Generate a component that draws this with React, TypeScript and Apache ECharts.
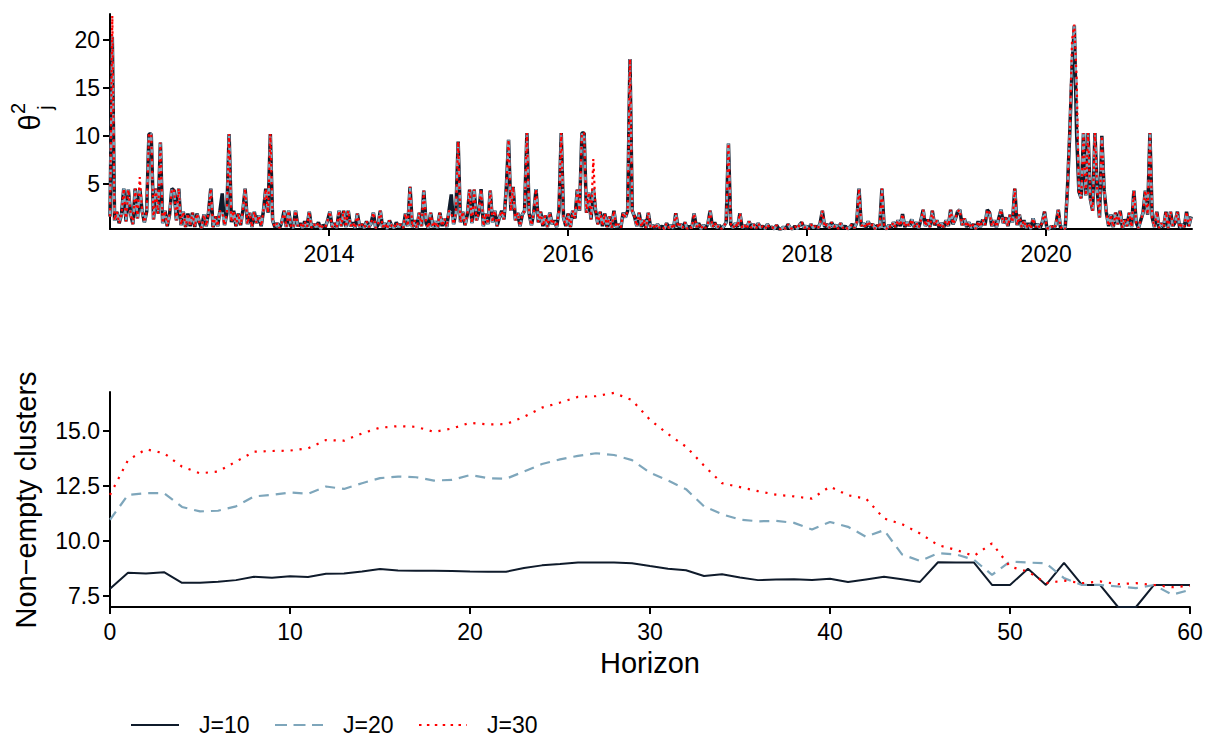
import React, { useEffect, useRef } from "react";
import * as echarts from "echarts";

// ---------- top panel: weekly theta_j^2 (first week = start of March 2012) ----------
const weekStart = 2012.167;
const weekStep = 7 / 365.25;

const theta10_2012 = [
  1.6, 20.3, 1.2, 2.1, 0.9, 1.8, 4.5, 1.1, 4.4, 1.9, 0.8, 4.5, 1.4, 4.5, 2.2, 1.0, 2.1, 10.2, 10.2, 1.3,
  4.5, 1.9, 9.3, 0.9, 2.2, 0.6, 1.8, 4.5, 4.3, 1.2, 4.5, 0.7, 2.1, 0.5, 1.9, 0.6, 2.0, 0.5, 1.9, 1.0,
  0.4, 1.8, 0.6, 2.0, 4.5, 0.5, 1.6, 0.6, 2.2, 4.0, 0.7, 1.9,
];
const theta10_2013 = [
  10.2, 1.0, 2.2, 0.6, 1.9, 0.7, 2.2, 4.5, 0.8, 2.0, 0.5, 2.1, 0.9, 1.7, 0.6, 2.2, 4.5, 2.0, 10.2, 1.2,
  0.5, 0.9, 0.4, 1.0, 2.2, 0.5, 2.2, 0.6, 0.4, 2.2, 0.6, 0.9, 0.4, 1.1, 0.5, 2.1, 0.4, 0.8, 0.5, 1.0,
  0.3, 0.7, 0.5, 1.2, 2.1, 0.5, 0.9, 0.4, 2.2, 0.6, 2.2, 0.5,
];
const theta10_2014 = [
  2.2, 0.6, 1.0, 0.4, 1.9, 0.5, 0.8, 0.4, 1.1, 0.5, 0.9, 2.0, 0.4, 0.7, 2.2, 0.5, 0.9, 0.3, 1.2, 0.6,
  0.4, 1.0, 0.5, 0.8, 0.4, 1.9, 0.6, 4.7, 0.5, 1.2, 0.4, 2.0, 0.6, 4.3, 0.9, 0.4, 2.0, 0.5, 1.1, 0.4,
  2.0, 0.6, 1.4, 0.5, 2.2, 3.9, 0.8, 2.0, 9.4, 1.0, 2.1, 0.7,
];
const theta10_2015 = [
  1.8, 4.4, 0.9, 4.4, 1.2, 2.0, 4.45, 0.6, 1.9, 0.8, 4.3, 1.0, 2.2, 0.6, 1.5, 2.2, 1.3, 4.5, 9.6, 2.2,
  4.7, 1.2, 2.0, 0.6, 1.8, 2.2, 10.3, 1.9, 0.7, 2.0, 4.45, 1.0, 2.1, 0.6, 1.7, 0.5, 2.0, 0.8, 1.2, 0.5,
  2.2, 10.3, 1.5, 0.6, 1.9, 0.5, 2.2, 1.4, 4.4, 2.2, 10.3, 10.3,
];
const theta10_2016 = [
  2.0, 4.1, 1.3, 4.5, 2.2, 0.8, 2.1, 0.6, 1.9, 0.5, 1.6, 0.4, 2.2, 0.5, 0.8, 0.4, 2.0, 1.5, 2.2, 18.0,
  2.2, 1.6, 0.6, 2.0, 0.5, 1.3, 0.4, 2.0, 0.5, 0.7, 0.3, 0.8, 0.4, 0.6, 0.3, 0.9, 0.4, 0.7, 0.3, 1.95,
  0.5, 0.8, 0.4, 1.0, 0.3, 0.6, 0.4, 1.9, 0.5, 0.9, 0.3, 0.7,
];
const theta10_2017 = [
  0.4, 0.8, 2.2, 0.5, 1.0, 0.4, 0.7, 0.3, 0.6, 1.0, 9.2, 0.8, 0.4, 0.9, 0.5, 1.95, 0.4, 0.7, 0.3, 1.1,
  0.4, 0.8, 0.3, 0.9, 0.4, 0.6, 0.3, 0.8, 0.4, 0.5, 0.3, 0.7, 0.3, 0.3, 0.5, 0.3, 0.8, 0.4, 0.3, 0.6,
  0.3, 0.7, 1.0, 0.4, 0.6, 0.3, 0.8, 0.4, 0.6, 0.3, 0.9, 2.2,
];
const theta10_2018 = [
  0.5, 0.8, 0.4, 1.0, 0.5, 0.7, 0.3, 0.9, 0.4, 0.6, 0.3, 0.5, 0.8, 0.4, 1.0, 4.5, 0.6, 0.9, 0.4, 1.1,
  0.5, 0.8, 0.3, 0.7, 0.4, 4.5, 0.5, 0.3, 0.7, 0.4, 1.0, 0.5, 1.2, 0.6, 1.85, 0.5, 1.0, 0.6, 1.3, 0.5,
  1.0, 0.4, 1.2, 2.3, 0.6, 1.3, 0.5, 2.2, 0.7, 1.2, 0.4, 0.9,
];
const theta10_2019 = [
  0.5, 1.2, 0.6, 2.3, 0.8, 1.3, 2.1, 2.3, 0.7, 1.4, 0.5, 1.0, 0.4, 0.8, 0.3, 1.1, 0.5, 1.3, 0.7, 2.3,
  2.0, 0.6, 1.2, 0.5, 1.4, 2.3, 0.9, 1.5, 0.6, 1.8, 1.0, 4.5, 0.7, 1.8, 0.5, 1.2, 0.4, 0.9, 0.3, 1.4,
  0.5, 0.8, 0.4, 1.0, 2.1, 0.4, 0.3, 0.6, 0.3, 0.8, 2.3, 0.4,
];
const theta10_2020 = [
  0.6, 0.3, 4.5, 10.3, 17.0, 21.5, 10.3, 4.2, 3.5, 10.3, 3.8, 10.3, 3.4, 2.2, 10.3, 4.3, 1.5, 10.0, 4.4, 2.0,
  0.6, 1.8, 0.5, 2.0, 0.8, 2.2, 0.4, 1.3, 0.6, 2.0, 0.5, 4.3, 1.0, 0.4, 1.2, 2.0, 4.3, 1.8, 10.3, 1.5,
  0.5, 2.1, 0.4, 0.9, 0.5, 2.1, 0.4, 2.1, 0.6, 1.0, 2.1, 0.4, 0.8, 0.5, 2.1, 0.6, 1.6,
];

// weeks where J=20 / J=30 differ from J=10: [week index, value]
const theta20Diff: [number, number][] = [[1, 20.5], [49, 2.2], [149, 2.0], [420, 18.5], [422, 14.0]];
const theta30Diff: [number, number][] = [
  [1, 22.5], [13, 5.7], [49, 2.0], [149, 2.0], [211, 7.6], [420, 20.0], [421, 21.6], [422, 16.0],
];

const yearTicks = [2014, 2016, 2018, 2020];
const thetaTicks = [5, 10, 15, 20];

// ---------- bottom panel: non-empty clusters by horizon ----------
const horizons = [
  0, 1, 2, 3, 4, 5, 6, 7, 8, 9, 10, 11, 12, 13, 14, 15, 16, 17, 18, 19, 20, 21, 22, 23, 24, 25, 26, 27, 28, 29,
  30, 31, 32, 33, 34, 35, 36, 37, 38, 39, 40, 41, 42, 43, 44, 45, 46, 47, 48, 49, 50, 51, 52, 53, 54, 55, 56, 57,
  58, 59, 60,
];
const clusters10 = [
  7.83, 8.55, 8.52, 8.58, 8.1, 8.1, 8.15, 8.22, 8.37, 8.33,
  8.4, 8.36, 8.51, 8.52, 8.61, 8.72, 8.66, 8.64, 8.64, 8.63,
  8.61, 8.6, 8.6, 8.77, 8.89, 8.95, 9.02, 9.02, 9.02, 8.99,
  8.86, 8.74, 8.67, 8.41, 8.49, 8.34, 8.22, 8.25, 8.26, 8.23,
  8.28, 8.13, 8.25, 8.37, 8.26, 8.14, 9.03, 9.02, 9.02, 8.0,
  8.0, 8.74, 8.0, 9.0, 8.0, 8.0, 7.0, 7.0, 8.0, 8.0, 8.0,
];
const clusters20 = [
  10.96, 12.09, 12.17, 12.17, 11.54, 11.34, 11.37, 11.57, 12.02, 12.09,
  12.2, 12.14, 12.47, 12.36, 12.62, 12.85, 12.92, 12.89, 12.74, 12.77,
  12.99, 12.85, 12.82, 13.15, 13.49, 13.7, 13.86, 13.98, 13.9, 13.67,
  13.1, 12.74, 12.35, 11.57, 11.21, 10.97, 10.89, 10.91, 10.82, 10.52,
  10.86, 10.64, 10.19, 10.49, 9.39, 9.09, 9.44, 9.39, 9.14, 8.46,
  9.06, 9.02, 8.98, 8.31, 8.0, 8.0, 7.93, 7.86, 8.0, 7.56, 7.78,
];
const clusters30 = [
  12.09, 13.67, 14.16, 13.98, 13.37, 13.07, 13.15, 13.6, 14.05, 14.08,
  14.1, 14.2, 14.58, 14.55, 14.88, 15.14, 15.21, 15.18, 14.95, 15.1,
  15.36, 15.29, 15.3, 15.63, 16.05, 16.28, 16.54, 16.57, 16.72, 16.39,
  15.5, 14.85, 14.28, 13.42, 12.62, 12.44, 12.26, 12.1, 12.02, 11.92,
  12.47, 12.07, 11.92, 11.02, 10.76, 10.34, 9.81, 9.59, 9.32, 9.89,
  8.83, 8.61, 8.08, 8.2, 8.08, 8.16, 8.04, 8.08, 8.0, 7.9, 7.96,
];
const clusterTicks = [7.5, 10, 12.5, 15];

const seriesNames = ["J=10", "J=20", "J=30"];
const colors = ["#0f1b2b", "#7ea6bb", "#ff0000"];

const FONT = "'Liberation Sans', Arial, Helvetica, sans-serif";

export default function App() {
  const ref = useRef<HTMLDivElement | null>(null);

  useEffect(() => {
    document.body.style.margin = "0";
    if (!ref.current) return;
    const chart = echarts.init(ref.current, undefined, { renderer: "svg" });

    const theta10 = [
      ...theta10_2012, ...theta10_2013, ...theta10_2014, ...theta10_2015, ...theta10_2016,
      ...theta10_2017, ...theta10_2018, ...theta10_2019, ...theta10_2020,
    ];
    const withDiff = (diff: [number, number][]) => {
      const arr = theta10.slice();
      diff.forEach(([i, v]) => (arr[i] = v));
      return arr;
    };
    const thetaSeries = [theta10, withDiff(theta20Diff), withDiff(theta30Diff)];
    const toPairs = (arr: number[]) => arr.map((v, i) => [weekStart + i * weekStep, v]);
    const clusterSeries = [clusters10, clusters20, clusters30];

    const bottomStyles = [
      { width: 2, type: "solid" as any },
      { width: 2.2, type: [10, 7] as any },
      { width: 2.2, type: [2.2, 6.8] as any },
    ];
    const topStyles = [
      { width: 3.5, type: "solid" as any },
      { width: 2.6, type: [8, 5] as any },
      { width: 2.2, type: [2.5, 3.5] as any },
    ];
    const legendDash: (number[] | null)[] = [null, [12, 6.5], [2.5, 5.4]];

    const axisLine = { show: true, onZero: false, lineStyle: { color: "#000", width: 2 } };
    const axisTickStyle = { color: "#000", width: 2 };
    const labelStyle = { fontSize: 23, color: "#000", fontFamily: FONT };

    const series: any[] = [];
    clusterSeries.forEach((arr, k) => {
      series.push({
        type: "line",
        name: seriesNames[k],
        xAxisIndex: 1,
        yAxisIndex: 1,
        data: horizons.map((h, i) => [h, arr[i]]),
        symbol: "none",
        silent: true,
        itemStyle: { color: colors[k] },
        lineStyle: { color: colors[k], ...bottomStyles[k], cap: "butt" },
        z: 2 + k,
      });
    });
    thetaSeries.forEach((arr, k) => {
      series.push({
        type: "line",
        name: seriesNames[k],
        xAxisIndex: 0,
        yAxisIndex: 0,
        data: toPairs(arr),
        symbol: "none",
        silent: true,
        itemStyle: { color: colors[k] },
        lineStyle: { color: colors[k], ...topStyles[k], cap: "butt" },
        z: 2 + k,
      });
    });

    // legend drawn as graphic lines + texts (line-style keys as in the reference)
    const legendY = 725;
    const legendIconX = [131, 275, 419];
    const legendItems: any[] = [];
    seriesNames.forEach((name, k) => {
      legendItems.push({
        type: "line",
        shape: { x1: legendIconX[k], y1: legendY, x2: legendIconX[k] + 48, y2: legendY },
        style: { stroke: colors[k], lineWidth: 2.2, lineDash: legendDash[k] || undefined, lineCap: "butt" },
      });
      legendItems.push({
        type: "text",
        x: legendIconX[k] + 68,
        y: legendY,
        style: { text: name, fontSize: 23, fontFamily: FONT, fill: "#000", align: "left", verticalAlign: "middle" },
      });
    });

    const option: any = {
      animation: false,
      textStyle: { fontFamily: FONT },
      grid: [
        { left: 110, right: 16, top: 14, height: 215 },
        { left: 110, right: 18, top: 392, height: 215 },
      ],
      xAxis: [
        {
          type: "value",
          gridIndex: 0,
          min: 2012.167,
          max: 2021.22,
          axisLine,
          axisTick: { show: true, length: 7, lineStyle: axisTickStyle, customValues: yearTicks },
          axisLabel: { ...labelStyle, margin: 13, customValues: yearTicks, formatter: (v: number) => String(Math.round(v)) },
          splitLine: { show: false },
        },
        {
          type: "value",
          gridIndex: 1,
          min: 0,
          max: 60,
          interval: 10,
          axisLine,
          axisTick: { show: true, length: 7, lineStyle: axisTickStyle },
          axisLabel: { ...labelStyle, margin: 13 },
          splitLine: { show: false },
        },
      ],
      yAxis: [
        {
          type: "value",
          gridIndex: 0,
          min: 0.3,
          max: 22.7,
          axisLine,
          axisTick: { show: true, length: 7, lineStyle: axisTickStyle, customValues: thetaTicks },
          axisLabel: { ...labelStyle, margin: 10, customValues: thetaTicks },
          splitLine: { show: false },
        },
        {
          type: "value",
          gridIndex: 1,
          min: 7.0,
          max: 16.76,
          axisLine,
          axisTick: { show: true, length: 7, lineStyle: axisTickStyle, customValues: clusterTicks },
          axisLabel: { ...labelStyle, margin: 10, customValues: clusterTicks, formatter: (v: number) => v.toFixed(1) },
          splitLine: { show: false },
        },
      ],
      graphic: [
        {
          type: "group",
          x: 29.5,
          y: 122.5,
          rotation: Math.PI / 2,
          children: [
            { type: "text", x: 0, y: 0, style: { text: "θ", fontSize: 29, fontFamily: FONT, fill: "#000", align: "center", verticalAlign: "middle" } },
            { type: "text", x: 14, y: -11.5, style: { text: "2", fontSize: 20, fontFamily: FONT, fill: "#000", align: "center", verticalAlign: "middle" } },
            { type: "text", x: 15, y: 15, style: { text: "j", fontSize: 20, fontFamily: FONT, fill: "#000", align: "center", verticalAlign: "middle" } },
          ],
        },
        {
          type: "text",
          x: 26,
          y: 500,
          rotation: Math.PI / 2,
          style: { text: "Non−empty clusters", fontSize: 29, fontFamily: FONT, fill: "#000", align: "center", verticalAlign: "middle" },
        },
        {
          type: "text",
          x: 650,
          y: 663,
          style: { text: "Horizon", fontSize: 29, fontFamily: FONT, fill: "#000", align: "center", verticalAlign: "middle" },
        },
        ...legendItems,
      ],
      series,
    };

    chart.setOption(option);
    return () => chart.dispose();
  }, []);

  return <div ref={ref} style={{ width: 1208, height: 738, background: "#fff" }} />;
}
